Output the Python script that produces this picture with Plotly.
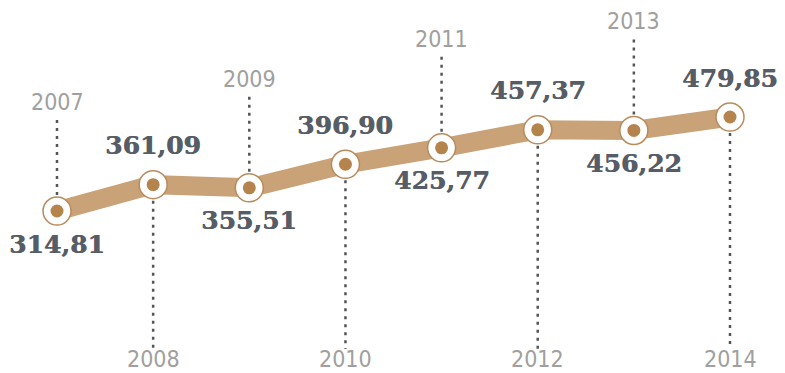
import plotly.graph_objects as go

years = [2007, 2008, 2009, 2010, 2011, 2012, 2013, 2014]
values = [314.81, 361.09, 355.51, 396.90, 425.77, 457.37, 456.22, 479.85]
value_labels = ["314,81", "361,09", "355,51", "396,90", "425,77", "457,37", "456,22", "479,85"]
year_labels = ["2007", "2008", "2009", "2010", "2011", "2012", "2013", "2014"]

W, H = 785, 373
X_RANGE = [2006.407, 2014.572]
Y_RANGE = [30.4, 685.3]

LINE_COLOR = "#c9a277"
DOT_COLOR = "#b5844d"
RING_COLOR = "#b98b5c"
TEXT_COLOR = "#575d67"
YEAR_COLOR = "#a0a0a0"
DOT_LINE = "#555555"


def px2y(p):
    return Y_RANGE[1] - p * (Y_RANGE[1] - Y_RANGE[0]) / H


fig = go.Figure()

fig.add_trace(go.Scatter(x=years, y=values, mode="lines",
                         line=dict(color=LINE_COLOR, width=19),
                         hoverinfo="skip", showlegend=False))
fig.add_trace(go.Scatter(x=years, y=values, mode="markers",
                         marker=dict(size=28, color="white",
                                     line=dict(color=RING_COLOR, width=1.5)),
                         hoverinfo="skip", showlegend=False))
fig.add_trace(go.Scatter(x=years, y=values, mode="markers",
                         marker=dict(size=13, color=DOT_COLOR, line=dict(width=0)),
                         hoverinfo="skip", showlegend=False))

YEAR_FONT = dict(family="DejaVu Sans Condensed, Liberation Sans Narrow", size=23, color=YEAR_COLOR)
VALUE_FONT = dict(family="DejaVu Serif", size=25, color=TEXT_COLOR, weight="bold",
                  shadow="0.6px 0px 0px #575d67")

shapes = []
annotations = []
for i, (yr, v, vl, yl) in enumerate(zip(years, values, value_labels, year_labels)):
    above_year = (i % 2 == 0)
    if above_year:
        shapes.append(dict(type="line", xref="x", yref="y", x0=yr, x1=yr,
                           ysizemode="pixel", yanchor=v, y0=0, y1=94,
                           line=dict(color=DOT_LINE, width=2.5, dash="3px,5px"),
                           layer="below"))
        annotations.append(dict(x=yr, y=v, xref="x", yref="y", text=yl,
                                showarrow=False, yshift=109, yanchor="middle",
                                font=YEAR_FONT))
        annotations.append(dict(x=yr, y=v, xref="x", yref="y", text=vl,
                                showarrow=False, yshift=-33, yanchor="middle",
                                font=VALUE_FONT))
    else:
        shapes.append(dict(type="line", xref="x", yref="y", x0=yr, x1=yr,
                           y0=v, y1=px2y(349),
                           line=dict(color=DOT_LINE, width=2.5, dash="3px,5px"),
                           layer="below"))
        annotations.append(dict(x=yr, y=1 - 359 / H, xref="x", yref="paper", text=yl,
                                showarrow=False, yanchor="middle",
                                font=YEAR_FONT))
        annotations.append(dict(x=yr, y=v, xref="x", yref="y", text=vl,
                                showarrow=False, yshift=39, yanchor="middle",
                                font=VALUE_FONT))

fig.update_layout(
    width=W, height=H,
    margin=dict(l=0, r=0, t=0, b=0),
    paper_bgcolor="white", plot_bgcolor="white",
    xaxis=dict(range=X_RANGE, visible=False, fixedrange=True),
    yaxis=dict(range=Y_RANGE, visible=False, fixedrange=True),
    shapes=shapes, annotations=annotations,
    showlegend=False,
)

fig.write_html("out.html", config={"displayModeBar": False},
               post_script="document.body.style.margin='0';document.body.style.padding='0';")
